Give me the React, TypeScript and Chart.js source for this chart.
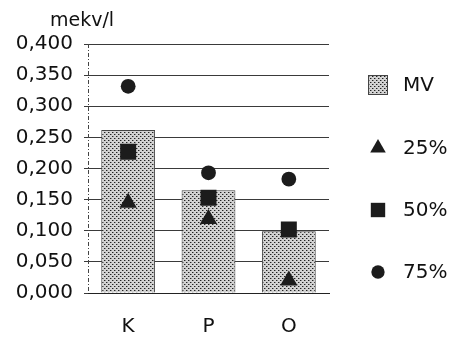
import React, { useEffect, useRef } from 'react';
import { Chart, registerables } from 'chart.js';

Chart.register(...registerables);

const categories = ['K', 'P', 'O'];
const seriesLabels = ['MV', '25%', '50%', '75%'];
const mvValues = [0.262, 0.165, 0.099];
const p25Values = [0.145, 0.119, 0.02];
const p50Values = [0.227, 0.153, 0.102];
const p75Values = [0.332, 0.193, 0.183];
const yTickLabels = ['0,000', '0,050', '0,100', '0,150', '0,200', '0,250', '0,300', '0,350', '0,400'];
const yUnit = 'mekv/l';

const FONT = '"DejaVu Sans", sans-serif';
const INK = '#111111';
const MARK = '#1c1c1c';

function makePattern(): CanvasPattern | string {
  const c = document.createElement('canvas');
  c.width = 4;
  c.height = 4;
  const g = c.getContext('2d');
  if (!g) return '#c0c0c0';
  g.fillStyle = '#d2d2d2';
  g.fillRect(0, 0, 4, 4);
  g.fillStyle = '#222222';
  g.fillRect(0, 0, 1, 1);
  g.fillRect(2, 2, 1, 1);
  g.fillStyle = '#8a8a8a';
  g.fillRect(1, 0, 1, 1);
  g.fillRect(3, 2, 1, 1);
  return g.createPattern(c, 'repeat') || '#c0c0c0';
}

function drawShape(ctx: CanvasRenderingContext2D, style: string, x: number, y: number, r: number) {
  ctx.beginPath();
  if (style === 'triangle') {
    const w = r * Math.sqrt(3) / 2;
    ctx.moveTo(x, y - r);
    ctx.lineTo(x + w, y + r / 2);
    ctx.lineTo(x - w, y + r / 2);
    ctx.closePath();
  } else if (style === 'rect') {
    const s = r * Math.SQRT1_2;
    ctx.rect(x - s, y - s, 2 * s, 2 * s);
  } else {
    ctx.arc(x, y, r, 0, Math.PI * 2);
  }
  ctx.fill();
}

const legendPlugin = {
  id: 'refLegend',
  afterDraw(chart: any) {
    const ctx: CanvasRenderingContext2D = chart.ctx;
    const ys = [85, 148, 210, 272];
    const iconX = 378;
    const textX = 403;
    ctx.save();
    chart.data.datasets.forEach((ds: any, i: number) => {
      const y = ys[i];
      if (ds.type === 'bar') {
        ctx.fillStyle = ds.backgroundColor;
        ctx.fillRect(iconX - 10, y - 10, 20, 20);
        ctx.strokeStyle = '#444';
        ctx.lineWidth = 1;
        ctx.strokeRect(iconX - 9.5, y - 9.5, 19, 19);
      } else {
        ctx.fillStyle = MARK;
        drawShape(ctx, ds.pointStyle, iconX, y, ds.pointRadius * 0.9);
      }
      ctx.fillStyle = INK;
      ctx.font = `20px ${FONT}`;
      ctx.textAlign = 'left';
      ctx.textBaseline = 'middle';
      ctx.fillText(ds.label, textX, y + 1);
    });
    ctx.restore();
  },
};

const axisPlugin = {
  id: 'unitAndAxis',
  afterDatasetsDraw(chart: any) {
    const ctx: CanvasRenderingContext2D = chart.ctx;
    const a = chart.chartArea;
    ctx.save();
    ctx.strokeStyle = '#444';
    ctx.lineWidth = 1;
    ctx.setLineDash([4, 2, 1, 2]);
    ctx.beginPath();
    ctx.moveTo(a.left + 0.5, a.top);
    ctx.lineTo(a.left + 0.5, a.bottom);
    ctx.stroke();
    ctx.restore();
  },
  afterDraw(chart: any) {
    const ctx: CanvasRenderingContext2D = chart.ctx;
    ctx.save();
    ctx.fillStyle = INK;
    ctx.font = `19px ${FONT}`;
    ctx.textAlign = 'left';
    ctx.textBaseline = 'middle';
    ctx.fillText(yUnit, 50, 21);
    ctx.restore();
  },
};

export default function App() {
  const ref = useRef<HTMLCanvasElement | null>(null);

  useEffect(() => {
    if (!ref.current) return;
    const pattern = makePattern();
    const chart = new Chart(ref.current, {
      type: 'bar',
      data: {
        labels: categories,
        datasets: [
          {
            type: 'bar',
            label: seriesLabels[0],
            data: mvValues,
            backgroundColor: pattern as any,
            borderColor: '#444',
            borderWidth: 1,
            barPercentage: 0.67,
            categoryPercentage: 1,
            order: 10,
          },
          {
            type: 'line',
            label: seriesLabels[1],
            data: p25Values,
            showLine: false,
            pointStyle: 'triangle',
            pointRadius: 10,
            pointBackgroundColor: MARK,
            pointBorderColor: MARK,
            pointBorderWidth: 0,
            order: 0,
          },
          {
            type: 'line',
            label: seriesLabels[2],
            data: p50Values,
            showLine: false,
            pointStyle: 'rect',
            pointRadius: 11.3,
            pointBackgroundColor: MARK,
            pointBorderColor: MARK,
            pointBorderWidth: 0,
            order: 0,
          },
          {
            type: 'line',
            label: seriesLabels[3],
            data: p75Values,
            showLine: false,
            pointStyle: 'circle',
            pointRadius: 7.4,
            pointBackgroundColor: MARK,
            pointBorderColor: MARK,
            pointBorderWidth: 0,
            order: 0,
          },
        ] as any,
      },
      options: {
        animation: false,
        responsive: false,
        devicePixelRatio: 1,
        layout: { padding: { top: 44, right: 125, left: 0, bottom: 0 } },
        plugins: {
          legend: { display: false },
          tooltip: { enabled: false },
          title: { display: false },
        },
        scales: {
          x: {
            grid: { display: false },
            border: { display: true, color: '#222', width: 1 },
            ticks: { font: { family: FONT, size: 20 }, color: INK, padding: 14 },
            afterFit: (s: any) => {
              s.height = 45;
            },
          },
          y: {
            min: 0,
            max: 0.4,
            ticks: {
              stepSize: 0.05,
              font: { family: FONT, size: 20 },
              color: INK,
              padding: 11,
              callback: (_v: any, i: number) => yTickLabels[i],
            },
            grid: { color: '#3a3a3a', lineWidth: 1, tickLength: 4, drawTicks: true },
            border: { display: false },
            afterFit: (s: any) => {
              s.width = 88;
            },
          },
        },
      } as any,
      plugins: [legendPlugin, axisPlugin],
    });
    return () => chart.destroy();
  }, []);

  return (
    <div style={{ position: 'fixed', left: 0, top: 0, width: 454, height: 338, background: '#fff' }}>
      <canvas ref={ref} width={454} height={338} />
    </div>
  );
}
